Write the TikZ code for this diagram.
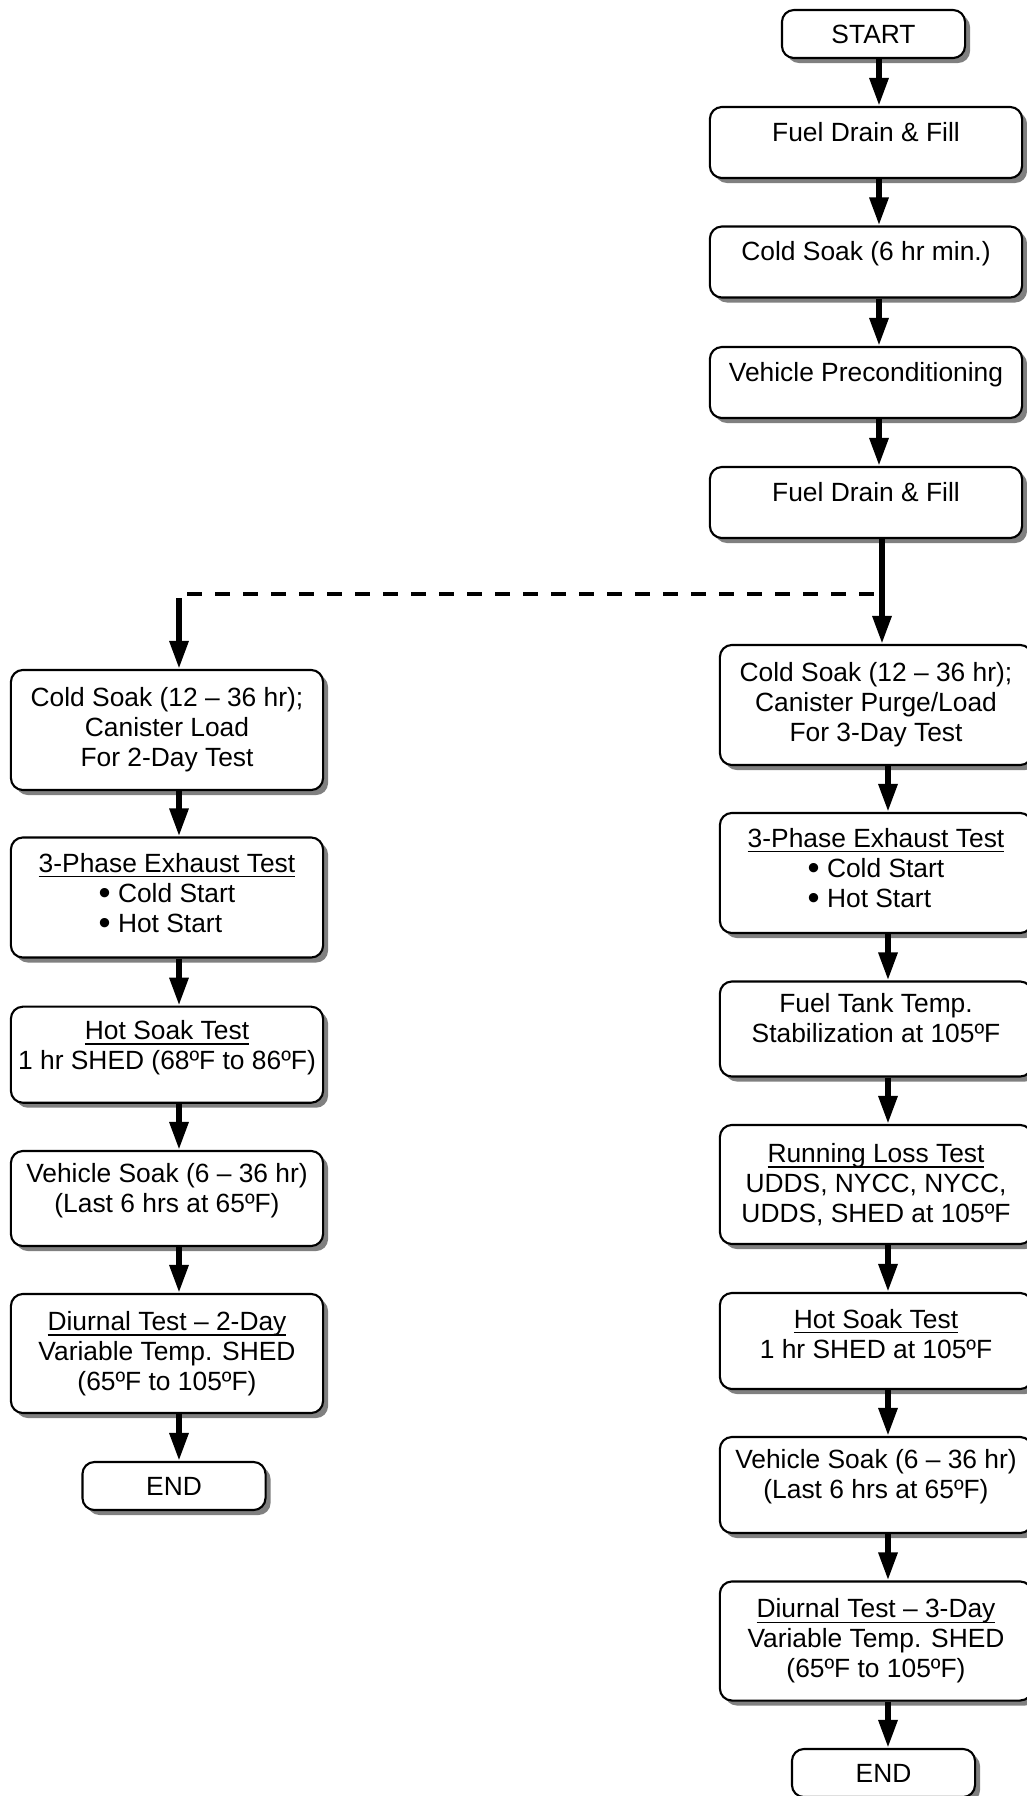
\documentclass[tikz,border=0pt]{standalone}
\usepackage{amsmath}
\usepackage{fontspec}
\setmainfont{Liberation Sans}
\usetikzlibrary{arrows.meta,shadows}

\newcommand{\ultitle}[1]{\underline{\smash[b]{#1}}}
\newcommand{\bul}{\raisebox{-0.02cm}{\scalebox{1.3}{•}}}

\tikzset{
    procbox/.style={draw, line width=0.6pt, rounded corners=0.12cm, fill=white, inner sep=0pt,
        minimum width=3.12cm, align=center, font=\fontsize{7.5pt}{8.5pt}\selectfont,
        drop shadow={shadow xshift=0.05cm, shadow yshift=-0.05cm, fill=black!50, opacity=1}},
    termbox/.style={procbox, minimum width=1.83cm, minimum height=0.48cm},
    flow/.style={line width=1.7pt, -{Triangle[width=0.18cm,length=0.28cm]}},
    altpath/.style={line width=1.15pt, dash pattern=on 0.15cm off 0.13cm}
}

\begin{document}
\begin{tikzpicture}[x=0.01cm, y=-0.01cm]
                    \useasboundingbox (0,0) rectangle (1026,1796);
                    \coordinate (rx) at (879,0);
                    \coordinate (rxl) at (882,0);
                    \coordinate (rx2) at (888,0);
                    \coordinate (lx) at (179,0);
                    \coordinate (dashL) at (187,594);
                    \coordinate (dashR) at (874,594);
                    \coordinate (branch) at (179,598);

                    \node[termbox] (start) at (873.5,34) {START};
                    \node[procbox, minimum height=0.71cm] (fd1) at (866,142.5) {Fuel Drain \& Fill\\[-0.08cm]~};
                    \node[procbox, minimum height=0.71cm] (cs6) at (866,262) {Cold Soak (6 hr min.)\\[-0.08cm]~};
                    \node[procbox, minimum height=0.71cm] (vp) at (866,382.5) {Vehicle Preconditioning\\[-0.08cm]~};
                    \node[procbox, minimum height=0.71cm] (fd2) at (866,502.5) {Fuel Drain \& Fill\\[-0.08cm]~};

                    \node[procbox, minimum height=1.2cm] (csR) at (876,705) {Cold Soak (12 -- 36 hr);\\Canister Purge/Load\\For 3-Day Test};
                    \node[procbox, minimum height=1.2cm] (xtR) at (876,873) {\ultitle{3-Phase Exhaust Test}\\\bul~Cold Start\hspace*{0.12cm}\\\bul~Hot Start\hspace*{0.5em}\hspace*{0.12cm}\\[-0.19cm]~};
                    \node[procbox, minimum height=0.95cm] (ftR) at (876,1029) {Fuel Tank Temp.\\Stabilization at 105ºF\\[-0.08cm]~};
                    \node[procbox, minimum height=1.19cm] (rlR) at (876,1184.5) {\ultitle{Running Loss Test}\\UDDS, NYCC, NYCC,\\UDDS, SHED at 105ºF};
                    \node[procbox, minimum height=0.96cm] (hsR) at (876,1341) {\ultitle{Hot Soak Test}\\1 hr SHED at 105ºF\\[-0.15cm]~};
                    \node[procbox, minimum height=0.96cm] (vsR) at (876,1485) {Vehicle Soak (6 -- 36 hr)\\(Last 6 hrs at 65ºF)\\[-0.08cm]~};
                    \node[procbox, minimum height=1.19cm] (dtR) at (876,1641) {\ultitle{Diurnal Test -- 3-Day}\\Variable Temp. SHED\\(65ºF to 105ºF)};
                    \node[termbox] (endR) at (883.5,1773) {END};

                    \node[procbox, minimum height=1.2cm] (csL) at (167,730) {Cold Soak (12 -- 36 hr);\\Canister Load\\For 2-Day Test};
                    \node[procbox, minimum height=1.2cm] (xtL) at (167,897.5) {\ultitle{3-Phase Exhaust Test}\\\bul~Cold Start\hspace*{0.12cm}\\\bul~Hot Start\hspace*{0.5em}\hspace*{0.12cm}\\[-0.2cm]~};
                    \node[procbox, minimum height=0.96cm] (hsL) at (167,1054.7) {\ultitle{Hot Soak Test}\\1 hr SHED (68ºF to 86ºF)\\[-0.1cm]~};
                    \node[procbox, minimum height=0.95cm] (vsL) at (167,1198.5) {Vehicle Soak (6 -- 36 hr)\\(Last 6 hrs at 65ºF)\\[-0.08cm]~};
                    \node[procbox, minimum height=1.19cm] (dtL) at (167,1353.5) {\ultitle{Diurnal Test -- 2-Day}\\Variable Temp. SHED\\(65ºF to 105ºF)};
                    \node[termbox] (endL) at (174,1486) {END};

                    \draw[flow] (start.south -| rx) -- (fd1.north -| rx);
                    \draw[flow] (fd1.south -| rx) -- (cs6.north -| rx);
                    \draw[flow] (cs6.south -| rx) -- (vp.north -| rx);
                    \draw[flow] (vp.south -| rx) -- (fd2.north -| rx);
                    \draw[flow] (fd2.south -| rxl) -- (csR.north -| rxl);
                    \draw[altpath] (dashL) -- (dashR);
                    \draw[flow] (branch) -- (csL.north -| branch);

                    \draw[flow] (csR.south -| rx2) -- (xtR.north -| rx2);
                    \draw[flow] (xtR.south -| rx2) -- (ftR.north -| rx2);
                    \draw[flow] (ftR.south -| rx2) -- (rlR.north -| rx2);
                    \draw[flow] (rlR.south -| rx2) -- (hsR.north -| rx2);
                    \draw[flow] (hsR.south -| rx2) -- (vsR.north -| rx2);
                    \draw[flow] (vsR.south -| rx2) -- (dtR.north -| rx2);
                    \draw[flow] (dtR.south -| rx2) -- (endR.north -| rx2);

                    \draw[flow] (csL.south -| lx) -- (xtL.north -| lx);
                    \draw[flow] (xtL.south -| lx) -- (hsL.north -| lx);
                    \draw[flow] (hsL.south -| lx) -- (vsL.north -| lx);
                    \draw[flow] (vsL.south -| lx) -- (dtL.north -| lx);
                    \draw[flow] (dtL.south -| lx) -- (endL.north -| lx);
\end{tikzpicture}
\end{document}
